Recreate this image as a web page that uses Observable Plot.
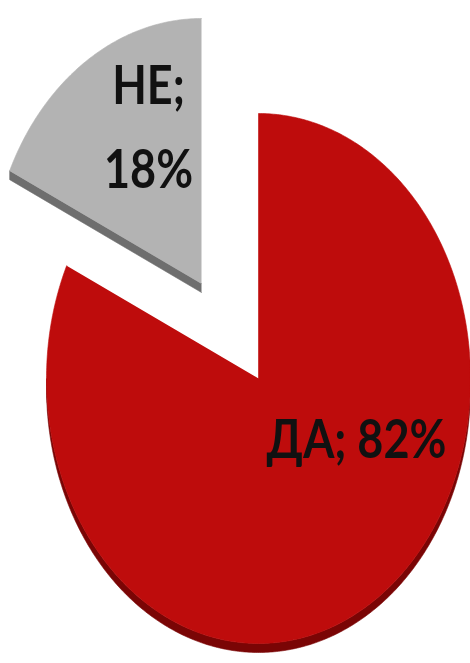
<!DOCTYPE html>
<html><head><meta charset="utf-8">
<script src="https://cdn.jsdelivr.net/npm/d3@7"></script>
<script src="https://cdn.jsdelivr.net/npm/@observablehq/plot@0.6"></script>
<style>html,body{margin:0;padding:0;background:#fff;}</style>
</head><body><div id="chart"></div>
<script>
// ---- data ----
const categories = ["ДА", "НЕ"];
const values = [82, 18];
const labels = ["ДА; 82%", "НЕ;\n18%"];
const topColors = ["#BE0C0C", "#B3B3B3"];
const sideColors = ["#7A0505", "#6E6E6E"];

// ---- layout ----
const W = 470, H = 663;
const cx = 258, cy = 378, rx = 212, ry = 265, depth = 9;
const explode = [[0, 0], [-57, -95]];
const labelOffset = [[98, 54], [-110, -258]];
const textScaleY = 1.2;

const pie = d3.pie().sort(null).value(d => d)(values);

function pt(c, a, k = 1) {
  return {x: c[0] + rx * k * Math.sin(a), y: c[1] - ry * k * Math.cos(a)};
}
function arcPts(c, a0, a1) {
  const n = Math.max(2, Math.ceil((a1 - a0) / 0.01));
  const out = [];
  for (let i = 0; i <= n; i++) out.push(pt(c, a0 + (a1 - a0) * i / n));
  return out;
}
const down = p => ({x: p.x, y: p.y + depth});

const sideMarks = [], topMarks = [], labelData = [];
pie.forEach((s, i) => {
  const c = [cx + explode[i][0], cy + explode[i][1]];
  const center = {x: c[0], y: c[1]};
  const top = [center, ...arcPts(c, s.startAngle, s.endAngle)];
  topMarks.push(Plot.line(top, {x: "x", y: "y", fill: topColors[i], stroke: topColors[i], strokeWidth: 0.6, curve: "linear"}));
  const lo = Math.max(s.startAngle, Math.PI / 2), hi = Math.min(s.endAngle, 3 * Math.PI / 2);
  if (hi > lo) {
    const a = arcPts(c, lo, hi);
    const poly = [...a, ...a.map(down).reverse()];
    sideMarks.push(Plot.line(poly, {x: "x", y: "y", fill: sideColors[i], stroke: sideColors[i], strokeWidth: 0.6, curve: "linear"}));
  }
  if (Math.sin(s.startAngle) < -1e-6) {
    const p = pt(c, s.startAngle);
    sideMarks.push(Plot.line([center, p, down(p), down(center)], {x: "x", y: "y", fill: sideColors[i], stroke: sideColors[i], strokeWidth: 0.6}));
  }
  if (Math.sin(s.endAngle) > 1e-6) {
    const p = pt(c, s.endAngle);
    sideMarks.push(Plot.line([center, p, down(p), down(center)], {x: "x", y: "y", fill: sideColors[i], stroke: sideColors[i], strokeWidth: 0.6}));
  }
  labelData.push({x: cx + labelOffset[i][0], y: cy + labelOffset[i][1], text: labels[i]});
});

const chart = Plot.plot({
  width: W, height: H,
  margin: 0,
  x: {domain: [0, W], range: [0, W], axis: null},
  y: {domain: [0, H], range: [0, H], axis: null},
  style: {background: "#fff"},
  marks: [
    ...sideMarks,
    ...topMarks,
    Plot.text(labelData, {x: "x", y: "y", text: "text", fill: "#111", fontSize: 45, fontWeight: "bold",
      fontFamily: "Lato", lineHeight: 1.55, textAnchor: "middle"})
  ]
});

document.getElementById("chart").appendChild(chart);

// stretch labels vertically about their own centre (the reference text is tall and narrow)
chart.querySelectorAll('g[aria-label="text"] text').forEach(t => {
  const r = t.getBoundingClientRect();
  const m = t.parentNode.getScreenCTM().inverse();
  const p = new DOMPoint(r.x + r.width / 2, r.y + r.height / 2).matrixTransform(m);
  const tr = t.getAttribute("transform") || "";
  t.setAttribute("transform", `translate(${p.x},${p.y}) scale(1,${textScaleY}) translate(${-p.x},${-p.y}) ${tr}`);
});
</script>
</body></html>
